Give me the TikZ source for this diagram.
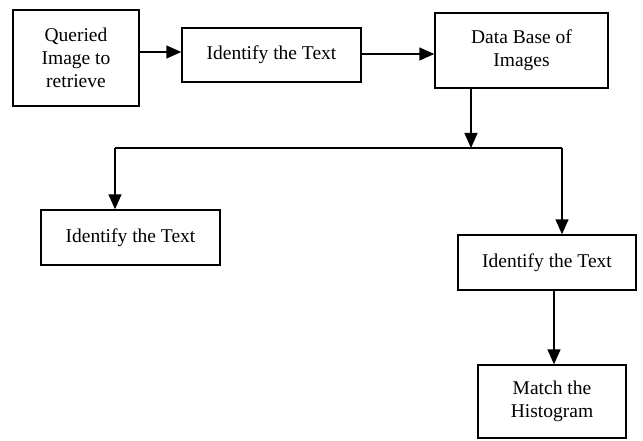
\documentclass[tikz,border=0pt]{standalone}
\usepackage{fontspec}
\setmainfont{Liberation Serif}
\usetikzlibrary{arrows.meta}
\begin{document}
\begin{tikzpicture}[x=1pt,y=-1pt,
  box/.style={draw,line width=1.4pt,rectangle,align=center,inner sep=0pt,
    font=\fontsize{19.5}{23}\selectfont},
  arr/.style={line width=1.4pt,-{Triangle[length=15pt,width=13pt]}},
  ln/.style={line width=1.4pt}]
\useasboundingbox[fill=white] (0,0) rectangle (643,441);
\node[box,minimum width=126pt,minimum height=96pt] (A) at (76,58) {Queried\\Image to\\retrieve};
\node[box,minimum width=179pt,minimum height=54pt] (B) at (271.5,55) {Identify the Text};
\node[box,minimum width=173pt,minimum height=75pt] (C) at (521.5,50.5) {Data Base of\\Images};
\node[box,minimum width=179pt,minimum height=55pt] (D) at (130.5,237.5) {Identify the Text};
\node[box,minimum width=178pt,minimum height=55pt] (E) at (547,262.5) {Identify the Text};
\node[box,minimum width=148pt,minimum height=73pt] (F) at (552,401.5) {Match the\\Histogram};
\coordinate (y1) at (0,52);
\coordinate (y2) at (0,54);
\coordinate (jm) at (471,148);
\coordinate (jl) at (115,148);
\coordinate (jr) at (562,148);
\coordinate (xo) at (554,0);
\draw[arr] (A.east |- y1) -- (B.west |- y1);
\draw[arr] (B.east |- y2) -- (C.west |- y2);
\draw[arr] (C.south -| jm) -- (jm);
\draw[ln] (jl) -- (jr);
\draw[arr] (jl) -- (D.north -| jl);
\draw[arr] (jr) -- (E.north -| jr);
\draw[arr] (E.south -| xo) -- (F.north -| xo);
\end{tikzpicture}
\end{document}
